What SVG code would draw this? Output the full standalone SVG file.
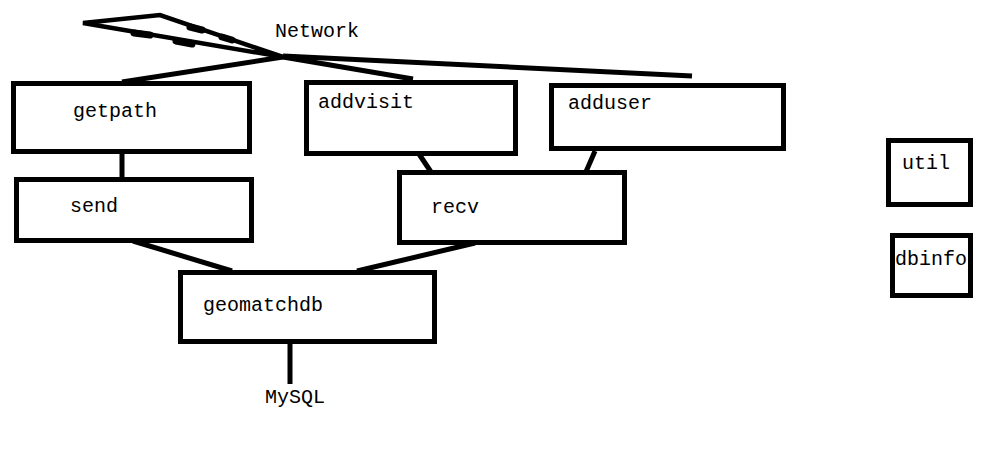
<svg xmlns="http://www.w3.org/2000/svg" width="1005" height="454" viewBox="0 0 1005 454">
<style>
.box{fill:#fff;stroke:#000;stroke-width:5}
.ln{stroke:#000;stroke-width:5;fill:none;stroke-linecap:butt}
.bolt{stroke:#000;stroke-width:4.5;fill:none;stroke-linejoin:miter}
.blob{stroke:#000;stroke-width:7;stroke-linecap:round}
text{font-family:"Liberation Mono","DejaVu Sans Mono",monospace;font-size:20px;fill:#000}
</style>
<rect width="1005" height="454" fill="#fff"/>
<g id="connectors">
<path class="bolt" d="M283,57 L160,15 L83,23 Z"/>
<line class="blob" x1="190" y1="27" x2="202" y2="30"/>
<line class="blob" x1="222" y1="37" x2="232" y2="40"/>
<line class="blob" x1="134" y1="33" x2="150" y2="35"/>
<line class="blob" x1="176" y1="41" x2="192" y2="44"/>
<line class="ln" x1="283" y1="57" x2="122" y2="82"/>
<line class="ln" x1="283" y1="57" x2="413" y2="79"/>
<line class="ln" x1="283" y1="56" x2="692" y2="76"/>
<line class="ln" x1="122" y1="154" x2="122" y2="178"/>
<line class="ln" x1="419" y1="154" x2="431" y2="172"/>
<line class="ln" x1="595" y1="151" x2="585" y2="174"/>
<line class="ln" x1="133" y1="241" x2="232" y2="271"/>
<line class="ln" x1="475" y1="243" x2="357" y2="271"/>
<line class="ln" x1="290" y1="343" x2="290" y2="384"/>
</g>
<g id="network"><text x="275" y="37">Network</text></g>
<g id="getpath"><rect class="box" x="13.5" y="83.5" width="236" height="68"/><text x="73" y="117">getpath</text></g>
<g id="send"><rect class="box" x="16.5" y="179.5" width="235" height="61"/><text x="70" y="212">send</text></g>
<g id="addvisit"><rect class="box" x="306.5" y="82.5" width="209" height="71"/><text x="318" y="108">addvisit</text></g>
<g id="adduser"><rect class="box" x="551.5" y="85.5" width="232" height="63"/><text x="568" y="109">adduser</text></g>
<g id="recv"><rect class="box" x="399.5" y="172.5" width="225" height="70"/><text x="431" y="213">recv</text></g>
<g id="geomatchdb"><rect class="box" x="180.5" y="272.5" width="254" height="69"/><text x="203" y="311">geomatchdb</text></g>
<g id="mysql"><text x="265" y="403">MySQL</text></g>
<g id="util"><rect class="box" x="888.5" y="140.5" width="82" height="64"/><text x="902" y="169">util</text></g>
<g id="dbinfo"><rect class="box" x="892.5" y="235.5" width="78" height="60"/><text x="895" y="265">dbinfo</text></g>
</svg>
